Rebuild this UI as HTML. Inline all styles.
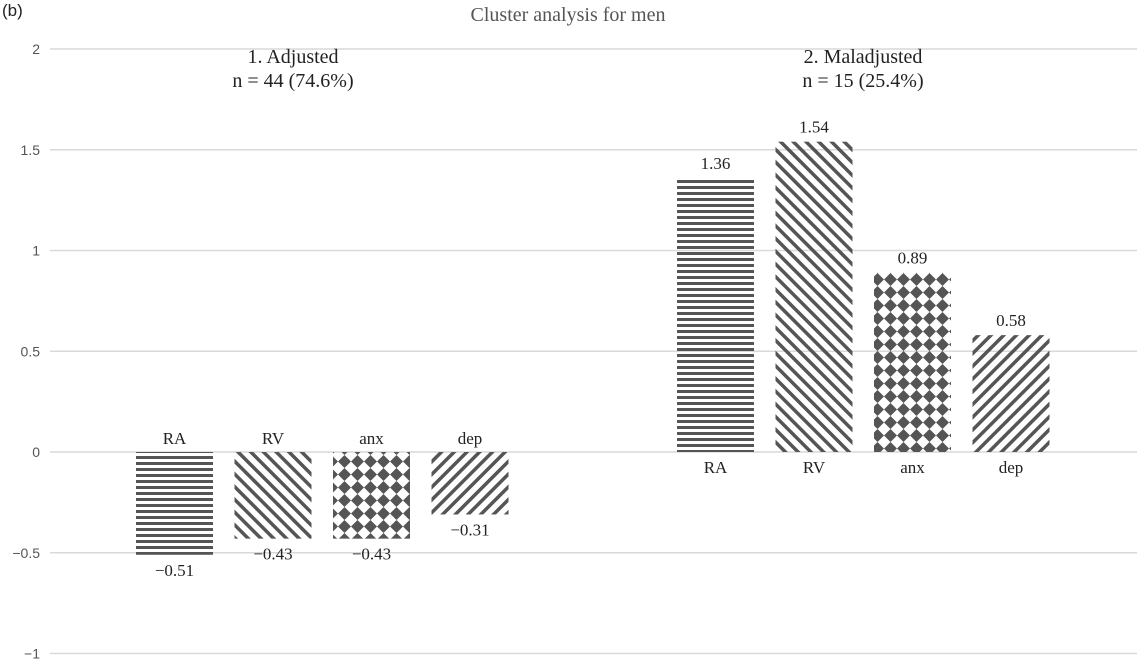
<!DOCTYPE html>
<html><head><meta charset="utf-8"><style>
body{margin:0;background:#fff;width:1137px;height:662px;overflow:hidden}
svg text{font-family:"Liberation Serif",serif;fill:#222}
</style></head><body>
<svg id="chart" width="1137" height="662" viewBox="0 0 1137 662">
<defs>
<pattern id="p-h" width="6" height="6" patternUnits="userSpaceOnUse"><rect y="0" width="6" height="3" fill="#555"/></pattern>
<pattern id="p-bs" width="9" height="9" patternUnits="userSpaceOnUse" patternTransform="rotate(45)"><rect x="0" width="3.5" height="9" fill="#555"/></pattern>
<pattern id="p-fs" width="9" height="9" patternUnits="userSpaceOnUse" patternTransform="rotate(-45)"><rect x="0" width="3.5" height="9" fill="#555"/></pattern>
<pattern id="p-d" width="13" height="13" patternUnits="userSpaceOnUse"><path d="M6.5 0L13 6.5L6.5 13L0 6.5Z" fill="#555"/></pattern>
</defs>
<text x="2" y="16" style="font-family:'Liberation Sans',sans-serif;font-size:17px">(b)</text>
<text x="568" y="21" text-anchor="middle" font-size="20" style="fill:#555">Cluster analysis for men</text>
<g id="grid"></g>
<g id="bars"></g>
<text x="293" y="63" text-anchor="middle" font-size="20">1. Adjusted</text>
<text x="293" y="87" text-anchor="middle" font-size="20">n = 44 (74.6%)</text>
<text x="863" y="63" text-anchor="middle" font-size="20">2. Maladjusted</text>
<text x="863" y="87" text-anchor="middle" font-size="20">n = 15 (25.4%)</text>
</svg>
<script>
const ticks=[2,1.5,1,0.5,0,-0.5,-1];
const tickLabels=["2","1.5","1","0.5","0","\u22120.5","\u22121"];
const categories=["RA","RV","anx","dep"];
const adjusted=[-0.51,-0.43,-0.43,-0.31];
const maladjusted=[1.36,1.54,0.89,0.58];
const valueLabels1=["\u22120.51","\u22120.43","\u22120.43","\u22120.31"];
const valueLabels2=["1.36","1.54","0.89","0.58"];
const NS="http://www.w3.org/2000/svg";
const y=v=>452-v*201.5;
const grid=document.getElementById('grid'),bars=document.getElementById('bars');
function mk(tag,attrs,parent){const e=document.createElementNS(NS,tag);for(const k in attrs)e.setAttribute(k,attrs[k]);parent.appendChild(e);return e;}
ticks.forEach((t,i)=>{
 const l=mk('line',{x1:50,x2:1137,y1:y(t),y2:y(t),stroke:'#d9d9d9','stroke-width':1.5},grid);
 
 
 const tx=mk('text',{x:40,y:y(t)+5,'text-anchor':'end','font-size':14,style:"font-family:'Liberation Sans',sans-serif;fill:#555"},grid);
 tx.textContent=tickLabels[i];
 
 
});
const fills=['url(#p-h)','url(#p-fs)','url(#p-d)','url(#p-bs)'];
function group(vals,labels,x0){
 vals.forEach((v,i)=>{
  const x=x0+i*98.5,w=77;
  const r=mk('rect',{x:x,y:Math.min(y(v),y(0)),width:w,height:Math.abs(y(v)-y(0)),fill:fills[i]},bars);
  
  
  const cat=mk('text',{x:x+w/2,'text-anchor':'middle','font-size':17},bars);
  cat.setAttribute('y',v<0?y(0)-8:y(0)+21);
  cat.textContent=categories[i];
  
  
  const vl=mk('text',{x:x+w/2,'text-anchor':'middle','font-size':17},bars);
  vl.setAttribute('y',v<0?y(v)+21:y(v)-9);
  vl.textContent=labels[i];
  
  
 });
}
group(adjusted,valueLabels1,136);
group(maladjusted,valueLabels2,677);
</script>
</body></html>
